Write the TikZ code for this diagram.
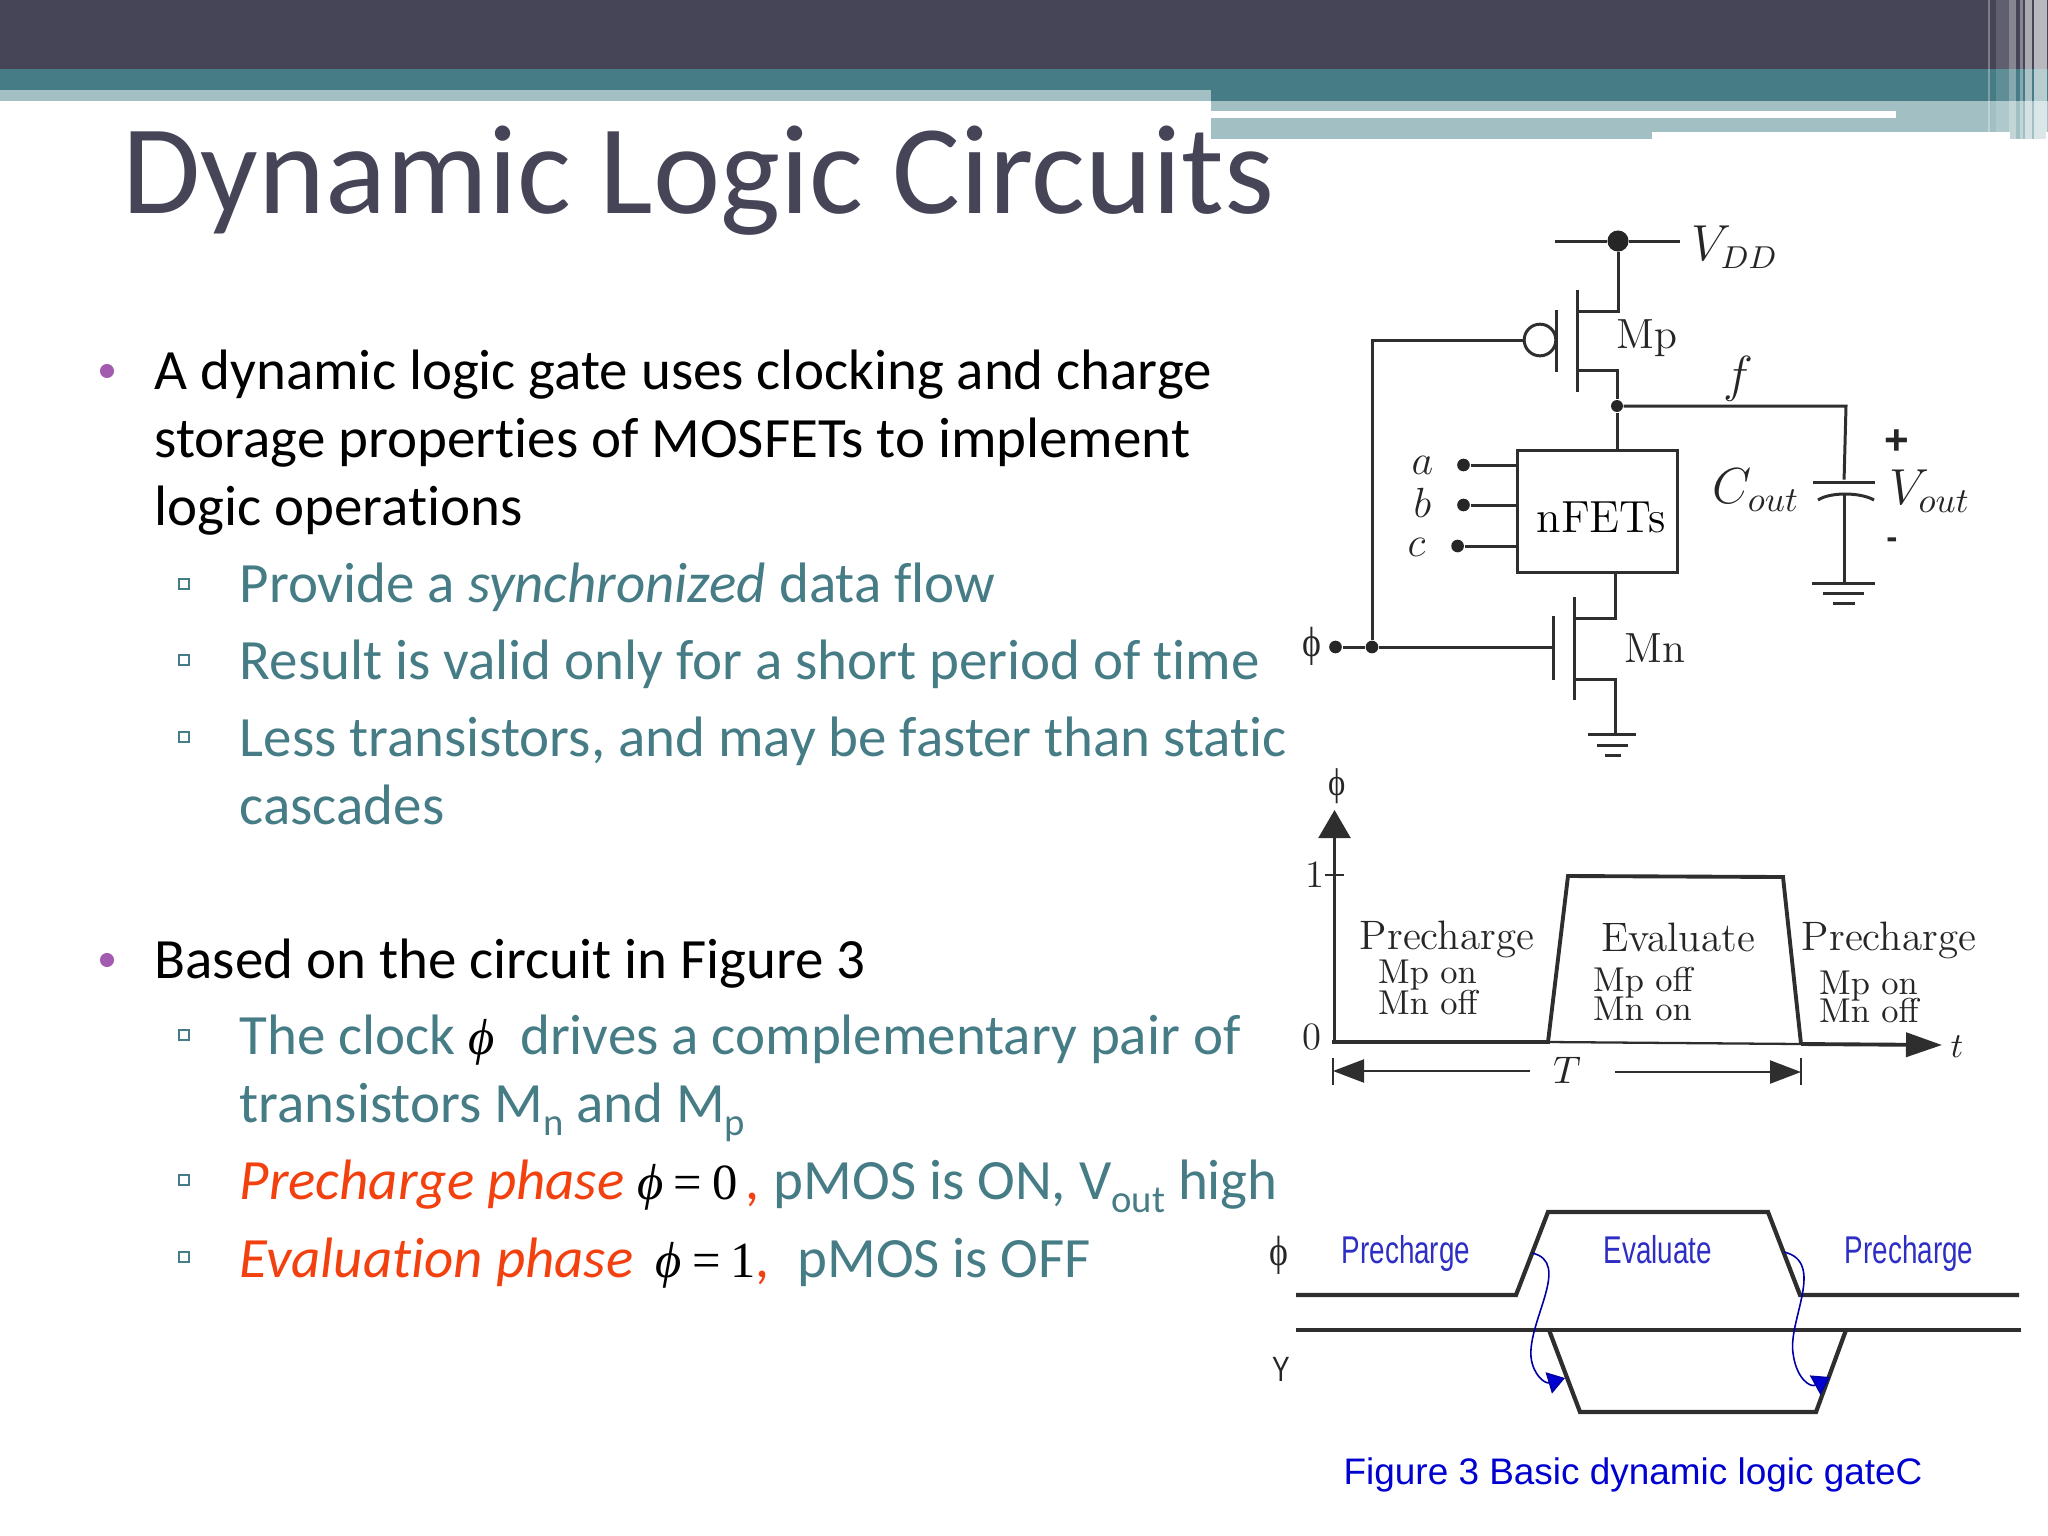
\documentclass[tikz,border=0pt]{standalone}
\usepackage{fontspec}
\usepackage{tikz}
\usetikzlibrary{arrows.meta}
\newfontfamily\bodyfont[Ligatures=NoCommon]{Carlito}
\newfontfamily\sansfont{Liberation Sans}
\newfontfamily\phifont{Liberation Serif}
\definecolor{slatedark}{HTML}{464558}
\definecolor{tealband}{HTML}{457C85}
\definecolor{tealpale}{HTML}{A2BFC3}
\definecolor{bulletpurple}{HTML}{A35BB0}
\definecolor{hotorange}{HTML}{F2400F}
\definecolor{wiregray}{HTML}{2E2E2E}
\definecolor{phaseblue}{HTML}{2E2EC4}
\definecolor{capblue}{HTML}{0000D0}
\newcommand{\lowtxt}[1]{\raisebox{-3.7pt}{\fontsize{11}{12}\selectfont #1}}
\newcommand{\mphi}{{\phifont\fontsize{14.4}{16}\selectfont\color{black}\itshape ϕ}}
\newcommand{\meq}[1]{{\phifont\fontsize{14.4}{16}\selectfont\color{black}{\itshape ϕ}\hspace{2.9pt}=\hspace{2.9pt}#1}}
\newcommand{\upphi}{{\phifont ϕ}}
\tikzset{
  headtext/.style={anchor=base west,inner sep=0,text=slatedark,font=\bodyfont\fontsize{36.2}{40}\selectfont},
  maintext/.style={anchor=base west,inner sep=0,text=black,font=\bodyfont\fontsize{16.2}{19}\selectfont},
  subtext/.style={anchor=base west,inner sep=0,text=tealband,font=\bodyfont\fontsize{16.2}{19}\selectfont},
  mainbul/.style={circle,fill=bulletpurple,inner sep=0,minimum size=4pt},
  subbul/.style={rectangle,draw=tealband,line width=.4pt,inner sep=0,minimum size=2.9pt},
  wire/.style={line width=.85pt,draw=wiregray},
  trace/.style={line width=1.1pt,draw=wiregray},
  plainline/.style={line width=.65pt,draw=wiregray},
  bigdot/.style={circle,fill=black!85,inner sep=0,minimum size=3.6pt},
  lab/.style={inner sep=0,text=black!85,font=\fontsize{12}{14}\selectfont},
  biglab/.style={inner sep=0,text=black!85,font=\fontsize{13.6}{16}\selectfont},
  phaselab/.style={inner sep=0,text=black!85,font=\fontsize{11.7}{13}\selectfont},
  onoff/.style={inner sep=0,text=black!85,align=left,font=\fontsize{9.8}{10}\selectfont},
  bluelab/.style={anchor=base,inner sep=0,text=phaseblue,xscale=.72,transform shape,font=\sansfont\fontsize{11}{12}\selectfont},
  blackhead/.style={-{Triangle[length=.28cm,width=.32cm]}},
  bluecurve/.style={line width=.45pt,draw=capblue!80!black,-{Triangle[length=.17cm,width=.22cm,fill=capblue]}}
}
\begin{document}
\begin{tikzpicture}[x=0.01cm,y=-0.01cm]
\useasboundingbox (0,0) rectangle (2048,1536);

\fill[slatedark] (0,0) rectangle (2048,69);
\fill[tealband] (0,69) rectangle (2048,101);
\fill[tealpale] (0,90) rectangle (1211,101);
\fill[tealpale] (1211,101) rectangle (1652,139);
\fill[tealpale] (1652,101) rectangle (2048,132);
\fill[tealpale] (2010,132) rectangle (2046,139);
\fill[white] (1211,111) rectangle (1896,118);
\foreach \xa/\xb/\op in {1988/1990/.3,1996/2009/.14,2009/2016/.35,2020/2023/.35,2025/2032/.55,2034/2047/.62}
  \fill[white,opacity=\op] (\xa,0) rectangle (\xb,139);

\node[headtext] (heading) at (122,213) {Dynamic Logic Circuits};

\node[mainbul] (b1) at (107,371) {};
\node[maintext] (t1) at (154,389) {A dynamic logic gate uses clocking and charge};
\node[maintext] (t2) at (154,457) {storage properties of MOSFETs to implement};
\node[maintext] (t3) at (154,525) {logic operations};
\node[subbul] (s1) at (184,584) {};
\node[subtext] (t4) at (239,602) {Provide a \textit{synchronized} data flow};
\node[subbul] (s2) at (184,660) {};
\node[subtext] (t5) at (239,679) {Result is valid only for a short period of time};
\node[subbul] (s3) at (184,737) {};
\node[subtext] (t6) at (239,756) {Less transistors, and may be faster than static};
\node[subtext] (t7) at (239,824) {cascades};

\node[mainbul] (b2) at (107,960) {};
\node[maintext] (t8) at (154,978) {Based on the circuit in Figure 3};
\node[subbul] (s4) at (184,1035) {};
\node[subtext] (t9) at (239,1054) {The clock \mphi\hspace{3.5pt} drives a complementary pair of};
\node[subtext] (t10) at (239,1122) {transistors M\lowtxt{n} and M\lowtxt{p}};
\node[subbul] (s5) at (184,1180) {};
\node[subtext] (t11) at (239,1199) {\textcolor{hotorange}{\textit{Precharge phase}} \meq{0}\hspace{2.6pt}\textcolor{hotorange}{\textit{,}} pMOS is ON, V\lowtxt{out} high};
\node[subbul] (s6) at (184,1257) {};
\node[subtext] (t12) at (239,1277) {\textcolor{hotorange}{\textit{Evaluation phase}}\, \meq{1}\textcolor{hotorange}{\textit{,}}\hspace{4pt} pMOS is OFF};

\node[bigdot,minimum size=6pt] (vdddot) at (1618,241) {};
\coordinate (vddl) at (1555,241);
\coordinate (vddr) at (1680,241);
\node[inner sep=0,text=black!85,font=\fontsize{13.5}{16}\selectfont] (vddlab) at (1735,247) {$V_{DD}$};
\draw[wire] (vddl) -- (vdddot) -- (vddr);
\coordinate (mpd) at (1618,311);
\coordinate (mpdl) at (1577,311);
\coordinate (mpsl) at (1577,370);
\coordinate (mps) at (1617,370);
\node[bigdot,minimum size=3.4pt] (fdot) at (1617,406) {};
\draw[wire] (vdddot) -- (mpd) -- (mpdl);
\draw[wire] (mpsl) -- (mps) -- (fdot);
\draw[wire] (1577,290) -- (1577,392);
\draw[wire] (1556,310) -- (1556,372);
\node[circle,draw=wiregray,line width=.85pt,inner sep=0,minimum size=9pt] (bubble) at (1540,340) {};
\coordinate (phitop) at (1372,340);
\node[lab] (mplab) at (1647,338) {Mp};
\node[biglab] (flab) at (1738,379) {$f$};

\node[draw=wiregray,line width=.85pt,minimum width=1.59cm,minimum height=1.21cm,inner sep=0,font=\fontsize{12.8}{14}\selectfont,text=black] (nfets) at (1597.5,511.5) {\rule{0pt}{12pt}\hspace{2pt}nFETs};
\draw[wire] (fdot) -- (fdot|-nfets.north);
\foreach \nm/\yy/\xx/\yl in {a/465/1463.5/465,b/505/1463.5/503,c/546/1457.6/547} {
  \node[bigdot] (in\nm) at (\xx,\yy) {};
  \draw[wire] (in\nm) -- (in\nm-|nfets.west);
  \node[lab,font=\fontsize{13}{15}\selectfont] (lab\nm) at (\xx-41,\yl) {$\nm$};
}

\coordinate (capt) at (1846,406);
\node[inner sep=0] (plate) at (1844,482) {};
\coordinate (platel) at (1813,482);
\coordinate (plater) at (1875,482);
\draw[wire] (fdot) -- (capt) -- (plate);
\draw[wire] (platel) -- (plater);
\draw[wire] (1818,500) .. controls (1830,492) and (1860,492) .. (1874,500);
\coordinate (gnda) at (1844,583);
\draw[wire] (1844,494) -- (gnda);
\draw[wire] (1812,583) -- (1875,583);
\draw[wire] (1823,593) -- (1864,593);
\draw[wire] (1833,603) -- (1855,603);
\node[biglab] (coutlab) at (1756,490) {$C_{out}$};
\node[biglab] (voutlab) at (1930,491) {$V_{out}$};
\node[lab,font=\sansfont\bfseries\fontsize{12}{14}\selectfont] (pluslab) at (1897,442) {+};
\node[lab,font=\sansfont\bfseries\fontsize{9.5}{11}\selectfont] (minuslab) at (1892,543) {-};

\coordinate (mnd) at (1615,618);
\coordinate (mndl) at (1574,618);
\coordinate (mnsl) at (1574,679);
\coordinate (mns) at (1615,679);
\coordinate (gndb) at (1615,734);
\draw[wire] (1615,572) -- (mnd) -- (mndl);
\draw[wire] (1574,597) -- (1574,700);
\draw[wire] (1553,616) -- (1553,680);
\draw[wire] (mnsl) -- (mns) -- (gndb);
\draw[wire] (1588,734) -- (1636,734);
\draw[wire] (1597,745) -- (1628,745);
\draw[wire] (1605,755) -- (1621,755);
\node[lab] (mnlab) at (1655,648) {Mn};
\node[bigdot] (phidot) at (1335.5,647) {};
\node[bigdot] (phijoin) at (1372,647) {};
\coordinate (mngate) at (1553,647);
\draw[wire] (phidot) -- (phijoin) -- (mngate);
\draw[wire] (phijoin) -- (phitop) -- (bubble);
\node[lab,xscale=.85,transform shape] (philab) at (1312,646) {\upphi};

\coordinate (org) at (1334.5,1042);
\coordinate (ytip) at (1334.5,810);
\coordinate (xtip) at (1942,1045);
\draw[plainline,blackhead] (org) -- (ytip);
\draw[plainline] (1325,875) -- (1344,875);
\node[lab,font=\fontsize{11}{13}\selectfont,xscale=.85,transform shape] (philabb) at (1337,786) {\upphi};
\node[lab,font=\fontsize{11}{13}\selectfont] (onelab) at (1315,875) {1};
\node[lab,font=\fontsize{11}{13}\selectfont] (zerolab) at (1312,1037) {0};
\coordinate (rise) at (1548,1042);
\coordinate (fall) at (1801,1044);
\draw[plainline] (rise) -- (fall);
\draw[trace] (1332,1042) -- (rise) -- (1568,876) -- (1783,877) -- (fall);
\draw[trace,-{Triangle[length=.36cm,width=.24cm]}] (fall) -- (xtip);
\node[lab,font=\fontsize{10}{12}\selectfont] (tlab) at (1957,1047) {$t$};
\draw[plainline] (1333,1058) -- (1333,1085);
\draw[plainline] (1801,1058) -- (1801,1085);
\coordinate (perl) at (1530,1071);
\coordinate (perr) at (1615,1072);
\coordinate (perlt) at (1333,1071);
\coordinate (perrt) at (1801,1072);
\draw[plainline,-{Triangle[length=.31cm,width=.23cm]}] (perl) -- (perlt);
\draw[plainline,-{Triangle[length=.31cm,width=.23cm]}] (perr) -- (perrt);
\node[lab,font=\fontsize{11}{13}\selectfont] (periodlab) at (1567,1070) {$T$};
\node[phaselab] (prea) at (1447,939) {Precharge};
\node[onoff] (mpa) at (1428,987) {Mp on\\[-1.2pt]Mn off};
\node[phaselab] (eva) at (1678,937) {Evaluate};
\node[onoff] (mpb) at (1643,994) {Mp off\\[-2pt]Mn on};
\node[phaselab] (preb) at (1889,940) {Precharge};
\node[onoff] (mpc) at (1869,997) {Mp on\\[-2pt]Mn off};

\node[lab,xscale=.85,transform shape] (philabc) at (1279,1255) {\upphi};
\node[bluelab] (prec) at (1406,1263) {Precharge};
\node[bluelab] (evb) at (1658,1263) {Evaluate};
\node[bluelab] (pred) at (1909,1263) {Precharge};
\node[inner sep=0,text=black!85,xscale=.75,transform shape,font=\sansfont\fontsize{10}{12}\selectfont] (ylab) at (1281,1369) {Y};
\draw[trace,line width=1.2pt] (1296,1295) -- (1516,1295) -- (1548,1212) -- (1768,1212) -- (1800,1295) -- (2019,1295);
\draw[trace,line width=1.2pt] (1296,1330) -- (2021,1330);
\draw[trace,line width=1.2pt] (1549,1330) -- (1580,1412) -- (1816,1412) -- (1846,1330);
\coordinate (cuea) at (1532,1253);
\coordinate (cuea2) at (1565,1378);
\coordinate (cueb) at (1784,1252);
\coordinate (cueb2) at (1830,1377);
\draw[bluecurve] (cuea) .. controls (1572,1262) and (1528,1320) .. (1531,1357) .. controls (1533,1375) and (1545,1384) .. (cuea2);
\draw[bluecurve] (cueb) .. controls (1826,1262) and (1788,1320) .. (1793,1353) .. controls (1796,1378) and (1810,1388) .. (cueb2);
\node[inner sep=0,text=capblue,font=\sansfont\fontsize{10.5}{13}\selectfont] (caption) at (1633,1475) {Figure 3 Basic dynamic logic gateC};
\end{tikzpicture}
\end{document}
